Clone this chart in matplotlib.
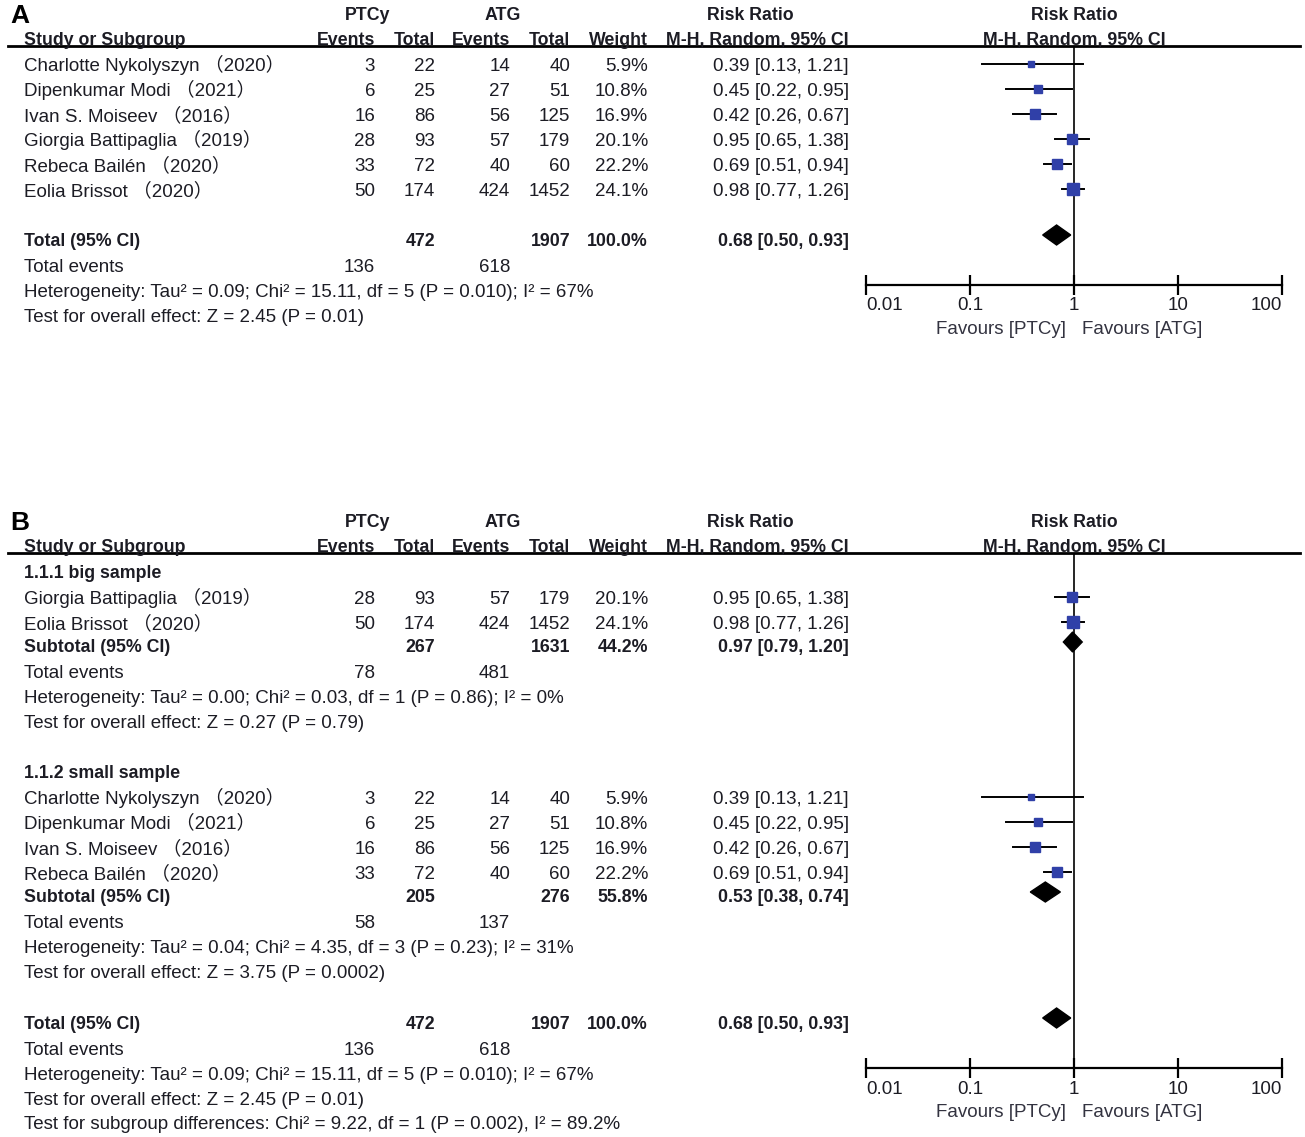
import numpy as np
import matplotlib
matplotlib.use('Agg')
import matplotlib.pyplot as plt

# study data
studies = ['Charlotte Nykolyszyn', 'Dipenkumar Modi', 'Ivan S. Moiseev',
           'Giorgia Battipaglia', 'Rebeca Bailén', 'Eolia Brissot']
years = [2020, 2021, 2016, 2019, 2020, 2020]
ptcy_events = [3, 6, 16, 28, 33, 50]
ptcy_total = [22, 25, 86, 93, 72, 174]
atg_events = [14, 27, 56, 57, 40, 424]
atg_total = [40, 51, 125, 179, 60, 1452]
weights = [5.9, 10.8, 16.9, 20.1, 22.2, 24.1]
rr = [0.39, 0.45, 0.42, 0.95, 0.69, 0.98]
rr_lo = [0.13, 0.22, 0.26, 0.65, 0.51, 0.77]
rr_hi = [1.21, 0.95, 0.67, 1.38, 0.94, 1.26]

# subgroups (indices into the study lists)
big_idx = [3, 5]
small_idx = [0, 1, 2, 4]

# pooled results: label, ptcy total, atg total, weight, rr, lo, hi, events ptcy, events atg
total_pool = ['Total (95% CI)', 472, 1907, '100.0%', 0.68, 0.50, 0.93, 136, 618]
big_pool = ['Subtotal (95% CI)', 267, 1631, '44.2%', 0.97, 0.79, 1.20, 78, 481]
small_pool = ['Subtotal (95% CI)', 205, 276, '55.8%', 0.53, 0.38, 0.74, 58, 137]

het_total = 'Heterogeneity: Tau² = 0.09; Chi² = 15.11, df = 5 (P = 0.010); I² = 67%'
eff_total = 'Test for overall effect: Z = 2.45 (P = 0.01)'
het_big = 'Heterogeneity: Tau² = 0.00; Chi² = 0.03, df = 1 (P = 0.86); I² = 0%'
eff_big = 'Test for overall effect: Z = 0.27 (P = 0.79)'
het_small = 'Heterogeneity: Tau² = 0.04; Chi² = 4.35, df = 3 (P = 0.23); I² = 31%'
eff_small = 'Test for overall effect: Z = 3.75 (P = 0.0002)'
subgroup_diff = 'Test for subgroup differences: Chi² = 9.22, df = 1 (P = 0.002), I² = 89.2%'

xticks = [0.01, 0.1, 1, 10, 100]
xtick_labels = ['0.01', '0.1', '1', '10', '100']

W, H = 1305, 1137
FS = 13.5
FSB = 12.8
FAM = ['Liberation Sans', 'Noto Sans CJK SC', 'DejaVu Sans']
BLUE = '#3040a8'
DARK = '#1c1c24'

plt.rcParams['font.family'] = FAM

fig = plt.figure(figsize=(W / 100, H / 100), dpi=100)
tx = fig.add_axes([0, 0, 1, 1])
tx.set_xlim(0, W)
tx.set_ylim(H, 0)
tx.axis('off')

# column x positions (right edges except name)
X_NAME = 24
X_E1, X_T1, X_E2, X_T2, X_W, X_CI = 375, 435, 510, 570, 648, 849
X_ONE = 1074


def txt(x, y, s, ha='left', bold=False, size=None, color=DARK):
    # y is the visual middle of the capitals; draw on the baseline below it
    if size is None:
        size = FSB if bold else FS
    tx.text(x, y + size * 0.52, s, ha=ha, va='baseline', fontsize=size,
            fontweight='bold' if bold else 'normal', color=color)


def ci_str(a, lo, hi):
    return f'{a:.2f} [{lo:.2f}, {hi:.2f}]'


def header(y0, letter):
    txt(10, y0, letter, bold=True, size=19, color='black')
    txt(368, y0, 'PTCy', ha='center', bold=True)
    txt(503, y0, 'ATG', ha='center', bold=True)
    txt(750, y0, 'Risk Ratio', ha='center', bold=True)
    txt(X_ONE, y0, 'Risk Ratio', ha='center', bold=True)
    y1 = y0 + 25
    txt(X_NAME, y1, 'Study or Subgroup', bold=True)
    for x, s in zip([X_E1, X_T1, X_E2, X_T2, X_W, X_CI],
                    ['Events', 'Total', 'Events', 'Total', 'Weight', 'M-H, Random, 95% CI']):
        txt(x, y1, s, ha='right', bold=True)
    txt(X_ONE, y1, 'M-H, Random, 95% CI', ha='center', bold=True)
    tx.plot([8, 1300], [y1 + 8, y1 + 8], color='black', lw=2)


def study_row(y, i):
    txt(X_NAME, y, f'{studies[i]} （{years[i]}）')
    txt(X_E1, y, str(ptcy_events[i]), ha='right')
    txt(X_T1, y, str(ptcy_total[i]), ha='right')
    txt(X_E2, y, str(atg_events[i]), ha='right')
    txt(X_T2, y, str(atg_total[i]), ha='right')
    txt(X_W, y, f'{weights[i]:.1f}%', ha='right')
    txt(X_CI, y, ci_str(rr[i], rr_lo[i], rr_hi[i]), ha='right')


def pool_rows(y, pool, het, eff):
    txt(X_NAME, y, pool[0], bold=True)
    txt(X_T1, y, str(pool[1]), ha='right', bold=True)
    txt(X_T2, y, str(pool[2]), ha='right', bold=True)
    txt(X_W, y, pool[3], ha='right', bold=True)
    txt(X_CI, y, ci_str(pool[4], pool[5], pool[6]), ha='right', bold=True)
    y += 26
    txt(X_NAME, y, 'Total events')
    txt(X_E1, y, str(pool[7]), ha='right')
    txt(X_E2, y, str(pool[8]), ha='right')
    txt(X_NAME, y + 25, het)
    txt(X_NAME, y + 50, eff)


def forest_axes(ytop, ybot):
    x0, x1 = 866, 1282
    ax = fig.add_axes([x0 / W, 1 - ybot / H, (x1 - x0) / W, (ybot - ytop) / H])
    ax.set_xscale('log')
    ax.set_xlim(0.01, 100)
    ax.set_ylim(ybot, ytop)
    ax.patch.set_alpha(0)
    for s in ['top', 'left', 'right']:
        ax.spines[s].set_visible(False)
    ax.spines['bottom'].set_linewidth(1.6)
    ax.axvline(1, color='black', lw=1.2)
    ax.set_yticks([])
    ax.set_xticks(xticks)
    ax.minorticks_off()
    labs = ax.set_xticklabels(xtick_labels, fontsize=FS, color=DARK)
    labs[0].set_ha('left')
    labs[-1].set_ha('right')
    ax.tick_params(axis='x', direction='inout', length=14, width=1.6, pad=2)
    return ax


def square(ax, y, i):
    ax.plot([rr_lo[i], rr_hi[i]], [y, y], color='black', lw=1.4)
    side = 2.3 * np.sqrt(weights[i])
    ax.plot(rr[i], y, marker='s', ms=side * 0.72, color=BLUE, mec=BLUE)


def diamond(ax, y, pool):
    h = 10
    ax.fill([pool[5], pool[4], pool[6], pool[4]], [y, y - h, y, y + h],
            color='black', zorder=3)


def favours(y):
    txt(1066, y, 'Favours [PTCy]', ha='right', color='#333340')
    txt(1082, y, 'Favours [ATG]', color='#333340')


# ---- Panel A ----
header(13, 'A')
axA = forest_axes(46, 285)
rowsA = [64, 89, 114, 139, 164, 189]
for y, i in zip(rowsA, range(len(studies))):
    study_row(y, i)
    square(axA, y, i)
pool_rows(239, total_pool, het_total, eff_total)
diamond(axA, 235, total_pool)
favours(327)

# ---- Panel B ----
header(520, 'B')
axB = forest_axes(554, 1068)
txt(X_NAME, 571, '1.1.1 big sample', bold=True)
for y, i in zip([597, 622], big_idx):
    study_row(y, i)
    square(axB, y, i)
pool_rows(645, big_pool, het_big, eff_big)
diamond(axB, 642, big_pool)

txt(X_NAME, 771, '1.1.2 small sample', bold=True)
for y, i in zip([797, 822, 847, 872], small_idx):
    study_row(y, i)
    square(axB, y, i)
pool_rows(895, small_pool, het_small, eff_small)
diamond(axB, 892, small_pool)

pool_rows(1022, total_pool, het_total, eff_total)
diamond(axB, 1018, total_pool)
txt(X_NAME, 1122, subgroup_diff)
favours(1110)

fig.savefig('out.png', dpi=100)
